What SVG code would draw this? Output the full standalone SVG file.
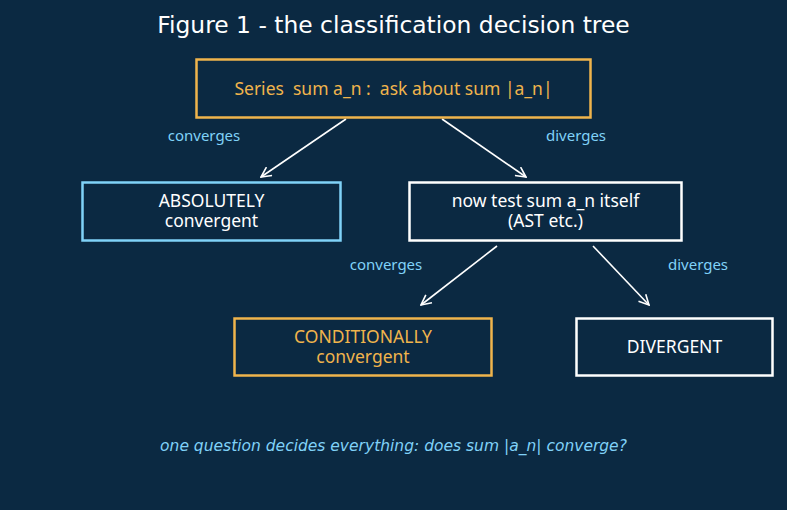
<svg xmlns="http://www.w3.org/2000/svg" width="787" height="510" viewBox="0 0 787 510">
<defs>
<style>
.box{fill:#0b2942;stroke-width:2.5}
.o{stroke:#f0b44c}
.b{stroke:#80d2f8}
.w{stroke:#ffffff}
.t{font-family:"Noto Sans","Open Sans",sans-serif;font-size:17.5px;text-anchor:middle}
.lab{font-family:"Noto Sans","Open Sans",sans-serif;font-size:15px;fill:#80d2f8;text-anchor:middle}
.edge{stroke:#ffffff;stroke-width:1.6;fill:none;marker-end:url(#ah)}
</style>
<marker id="ah" viewBox="0 0 12 12" refX="11" refY="6" markerWidth="12" markerHeight="12" markerUnits="userSpaceOnUse" orient="auto">
<path d="M1,1 L11,6 L1,11" fill="none" stroke="#ffffff" stroke-width="1.6"/>
</marker>
</defs>
<rect width="787" height="510" fill="#0b2942"/>
<text x="393.5" y="32.5" font-family="DejaVu Sans,sans-serif" font-size="23.4" fill="#ffffff" text-anchor="middle">Figure 1 - the classification decision tree</text>
<g id="connectors">
<line class="edge" x1="346" y1="119" x2="261" y2="177"/>
<line class="edge" x1="442" y1="119" x2="526" y2="177"/>
<line class="edge" x1="497" y1="246" x2="421" y2="305"/>
<line class="edge" x1="593" y1="246" x2="649" y2="305"/>
<text class="lab" x="204" y="141">converges</text>
<text class="lab" x="576" y="141">diverges</text>
<text class="lab" x="386" y="270">converges</text>
<text class="lab" x="698" y="270">diverges</text>
</g>
<g id="root">
<rect class="box o" x="196.5" y="59.5" width="394" height="58"/>
<text class="t" x="393.5" y="94.5" fill="#f0b44c" xml:space="preserve">Series  sum a_n :  ask about sum |a_n|</text>
</g>
<g id="absolute">
<rect class="box b" x="82.5" y="182.5" width="258" height="58"/>
<text class="t" x="211.5" y="206.5" fill="#ffffff">ABSOLUTELY</text>
<text class="t" x="211.5" y="227" fill="#ffffff">convergent</text>
</g>
<g id="test">
<rect class="box w" x="409.5" y="182.5" width="272" height="58"/>
<text class="t" x="545.5" y="207" fill="#ffffff">now test sum a_n itself</text>
<text class="t" x="545.5" y="227" fill="#ffffff">(AST etc.)</text>
</g>
<g id="conditional">
<rect class="box o" x="234.5" y="318.5" width="257" height="57"/>
<text class="t" x="363" y="342.5" fill="#f0b44c">CONDITIONALLY</text>
<text class="t" x="363" y="363" fill="#f0b44c">convergent</text>
</g>
<g id="divergent">
<rect class="box w" x="576.5" y="318.5" width="196" height="57"/>
<text class="t" x="674.5" y="353" fill="#ffffff">DIVERGENT</text>
</g>
<text x="393.5" y="451" font-family="DejaVu Sans,sans-serif" font-style="italic" font-size="15.5" fill="#80d2f8" text-anchor="middle">one question decides everything: does sum |a_n| converge?</text>
</svg>
